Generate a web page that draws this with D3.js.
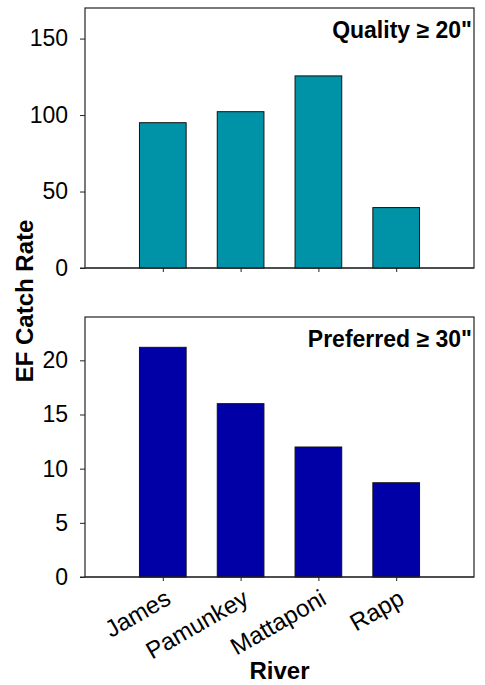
<!DOCTYPE html>
<html>
<head>
<meta charset="utf-8">
<script src="https://cdn.jsdelivr.net/npm/d3@7"></script>
<style>
  body { margin: 0; background: #fff; }
  svg { display: block; }
  text { font-family: "Liberation Sans", Arial, sans-serif; }
</style>
</head>
<body>
<div id="chart"></div>
<script>
const rivers = ["James", "Pamunkey", "Mattaponi", "Rapp"];
const qualityRates = [95.0, 102.2, 125.6, 39.5];
const preferredRates = [21.2, 16.0, 12.0, 8.7];
const qualityTicks = [0, 50, 100, 150];
const preferredTicks = [0, 5, 10, 15, 20];

const width = 485, height = 685;
const left = 85, right = 474;

const svg = d3.select("#chart").append("svg")
    .attr("width", width)
    .attr("height", height);

const x = d3.scalePoint().domain(rivers).range([left, right]).padding(1);
const barWidth = x.step() * 0.6;

function drawPanel(values, ticks, yMax, top, bottom, color, title, showLabels) {
    const y = d3.scaleLinear().domain([0, yMax]).range([bottom, top]);
    const g = svg.append("g");

    // frame
    g.append("rect")
        .attr("x", left).attr("y", top)
        .attr("width", right - left).attr("height", bottom - top)
        .attr("fill", "none").attr("stroke", "#222").attr("stroke-width", 1.2);

    g.selectAll("rect.bar")
        .data(values)
        .join("rect")
        .attr("class", "bar")
        .attr("x", (d, i) => x(rivers[i]) - barWidth / 2)
        .attr("y", d => y(d))
        .attr("width", barWidth)
        .attr("height", d => bottom - y(d))
        .attr("fill", color)
        .attr("stroke", "#111")
        .attr("stroke-width", 1);

    const yAxis = g.append("g")
        .attr("transform", "translate(" + left + ",0)")
        .call(d3.axisLeft(y).tickValues(ticks).tickSize(5).tickPadding(12));
    yAxis.select(".domain").remove();
    yAxis.selectAll("line").attr("stroke", "#222");
    yAxis.selectAll("text")
        .attr("font-size", "23px")
        .attr("fill", "#000")
        .attr("font-family", "Liberation Sans, Arial, sans-serif");

    const xAxis = g.append("g")
        .attr("transform", "translate(0," + bottom + ")")
        .call(d3.axisBottom(x).tickSize(4).tickFormat(""));
    xAxis.select(".domain").attr("stroke", "#222")
        .attr("d", "M" + (left - 5) + ",0H" + right);
    xAxis.selectAll("line").attr("stroke", "#222");

    if (showLabels) {
        xAxis.selectAll(".tick text")
            .text(d => d)
            .attr("font-size", "24px")
            .attr("fill", "#000")
            .attr("font-family", "Liberation Sans, Arial, sans-serif")
            .attr("text-anchor", "end")
            .attr("dy", null)
            .attr("y", null)
            .attr("transform", "translate(9,26) rotate(-30)");
    }

    g.append("text")
        .attr("x", right - 2)
        .attr("y", top + 30)
        .attr("text-anchor", "end")
        .attr("font-size", "23px")
        .attr("font-weight", "bold")
        .text(title);
}

drawPanel(qualityRates, qualityTicks, 170, 8, 268, "#0093a8", "Quality \u2265 20\"", false);
drawPanel(preferredRates, preferredTicks, 24, 317, 577, "#0000a6", "Preferred \u2265 30\"", true);

svg.append("text")
    .attr("transform", "translate(33,301) rotate(-90)")
    .attr("text-anchor", "middle")
    .attr("font-size", "24px")
    .attr("font-weight", "bold")
    .text("EF Catch Rate");

svg.append("text")
    .attr("x", (left + right) / 2)
    .attr("y", 679)
    .attr("text-anchor", "middle")
    .attr("font-size", "24px")
    .attr("font-weight", "bold")
    .text("River");
</script>
</body>
</html>
